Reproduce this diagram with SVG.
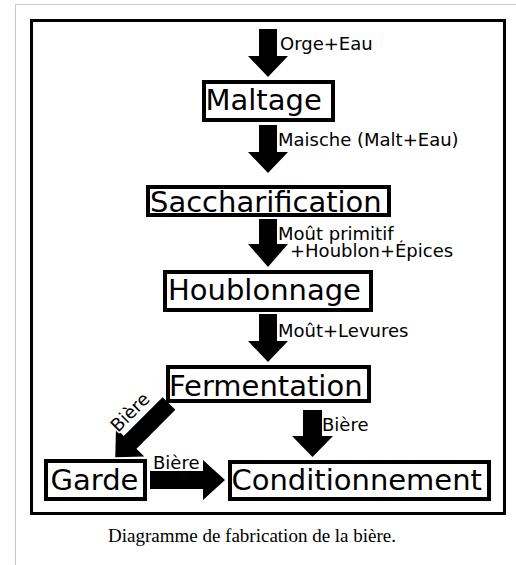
<svg xmlns="http://www.w3.org/2000/svg" width="516" height="565" viewBox="0 0 516 565">
<style>
.box{fill:#fff;stroke:#000;stroke-width:4}
.big{font-family:"DejaVu Sans",sans-serif;font-size:29px;fill:#000}
.lbl{font-family:"DejaVu Sans",sans-serif;font-size:18px;fill:#000;stroke:#fff;stroke-width:3;paint-order:stroke;stroke-linejoin:round}
.arr{fill:#000}
</style>
<defs>
<polygon id="varrow" points="-9,0 9,0 9,27 20,27 0,48 -20,27 -9,27"/>
</defs>
<rect x="0" y="0" width="516" height="565" fill="#fff"/>
<path d="M15.5,565 V4.5 H516" fill="none" stroke="#c8c8c8" stroke-width="1"/>
<rect x="31.5" y="20.5" width="473" height="493" fill="none" stroke="#000" stroke-width="3"/>
<g id="connectors">
<polygon class="arr" points="259,29 277,29 277,56 288,56 268,77 248,56 259,56"/>
<polygon class="arr" points="259,125 277,125 277,152 288,152 268,173 248,152 259,152"/>
<polygon class="arr" points="259,219 277,219 277,244 288,244 268,267 248,244 259,244"/>
<polygon class="arr" points="259,314 277,314 277,341 288,341 268,362 248,341 259,341"/>
<polygon class="arr" points="303,410 322,410 322,436 333,436 312.5,457 292,436 303,436"/>
<polygon class="arr" points="150,471 203,471 203,460 225,480 203,500 203,489 150,489"/>
<polygon class="arr" transform="translate(169,403.5) rotate(45)" points="-9,0 9,0 9,55 20,55 0,76 -20,55 -9,55"/>
<text class="lbl" x="280" y="50">Orge+Eau</text>
<text class="lbl" x="278" y="146">Maische (Malt+Eau)</text>
<text class="lbl" x="278" y="240">Moût primitif</text>
<text class="lbl" x="290" y="257">+Houblon+Épices</text>
<text class="lbl" x="278" y="337">Moût+Levures</text>
<text class="lbl" x="322" y="431">Bière</text>
<text class="lbl" x="153" y="469">Bière</text>
<text class="lbl" transform="translate(118,433) rotate(-45)">Bière</text>
</g>
<g id="maltage"><rect class="box" x="204" y="82" width="129" height="38"/><text class="big" x="205.5" y="110">Maltage</text></g>
<g id="saccharification"><rect class="box" x="148" y="187" width="241" height="28"/><text class="big" x="150" y="211.5">Saccharification</text></g>
<g id="houblonnage"><rect class="box" x="165" y="272" width="206" height="38"/><text class="big" x="168" y="300">Houblonnage</text></g>
<g id="fermentation"><rect class="box" x="168" y="367" width="201" height="34"/><text class="big" x="169" y="396">Fermentation</text></g>
<g id="garde"><rect class="box" x="46" y="461" width="99" height="38"/><text class="big" x="50.5" y="490">Garde</text></g>
<g id="conditionnement"><rect class="box" x="230" y="462" width="259" height="37"/><text class="big" x="231.5" y="490">Conditionnement</text></g>
<text x="252" y="542" text-anchor="middle" font-family="Liberation Serif,serif" font-size="19" fill="#000">Diagramme de fabrication de la bière.</text>
</svg>
